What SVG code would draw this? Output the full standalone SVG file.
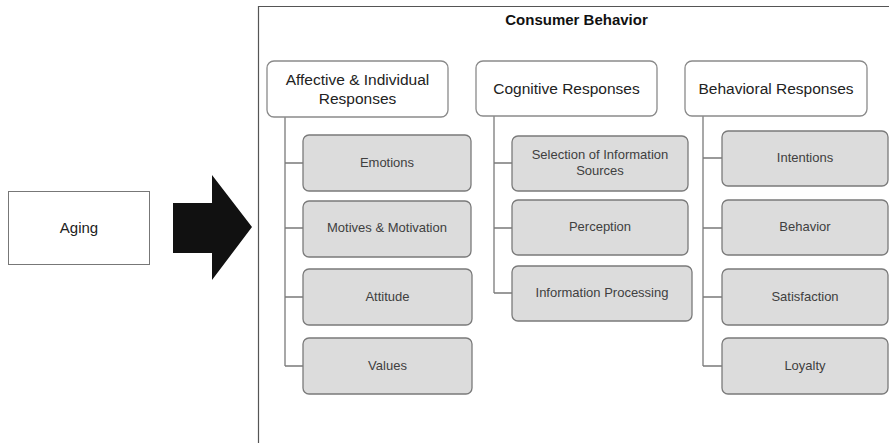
<svg xmlns="http://www.w3.org/2000/svg" width="889" height="443" viewBox="0 0 889 443">
<style>
.hdr{fill:#fff;stroke:#8a8a8a;stroke-width:1.3}
.child{fill:#dcdcdc;stroke:#7a7a7a;stroke-width:1.3}
.ht{font-family:"Liberation Sans",Arial,sans-serif;font-size:15.5px;fill:#222;text-anchor:middle}
.ct{font-family:"Liberation Sans",Arial,sans-serif;font-size:13px;fill:#404040;text-anchor:middle}
.conn{fill:none;stroke:#7a7a7a;stroke-width:1.3}
</style>
<rect width="889" height="443" fill="#fff"/>
<g id="container">
<path d="M258.5 450 V6.5 H895" fill="none" stroke="#555" stroke-width="1.2"/>
<text x="576.5" y="25" font-family="Liberation Sans,Arial,sans-serif" font-size="15" font-weight="bold" text-anchor="middle" fill="#111">Consumer Behavior</text>
</g>
<g id="aging">
<rect x="8.5" y="191.5" width="141" height="73" fill="#fff" stroke="#777" stroke-width="1"/>
<text x="79" y="233" class="ct" style="font-size:15px;fill:#222">Aging</text>
</g>
<g id="bigArrow">
<polygon points="173,203 212,203 212,175 252,227 212,280 212,253 173,253" fill="#111"/>
</g>
<g id="connectors">
<path class="conn" d="M285 117 V366 M285 163 H303 M285 228 H303 M285 297 H303 M285 366 H303"/>
<path class="conn" d="M494 116 V293 M494 163 H512 M494 228 H512 M494 293 H512"/>
<path class="conn" d="M703 116 V366 M703 158 H722 M703 228 H722 M703 297 H722 M703 366 H722"/>
</g>
<g id="affective">
<rect class="hdr" x="267" y="61" width="181" height="56" rx="7"/>
<text class="ht" x="357.5" y="85">Affective &amp; Individual</text>
<text class="ht" x="357.5" y="104">Responses</text>
</g>
<g id="cognitive">
<rect class="hdr" x="476" y="61" width="181" height="55" rx="7"/>
<text class="ht" x="566.5" y="94">Cognitive Responses</text>
</g>
<g id="behavioral">
<rect class="hdr" x="685" y="61" width="182" height="55" rx="7"/>
<text class="ht" x="776" y="94">Behavioral Responses</text>
</g>
<g id="emotions"><rect class="child" x="303" y="135" width="168" height="56" rx="6"/><text class="ct" x="387" y="167">Emotions</text></g>
<g id="motives"><rect class="child" x="303" y="201" width="168" height="56" rx="6"/><text class="ct" x="387" y="232">Motives &amp; Motivation</text></g>
<g id="attitude"><rect class="child" x="303" y="269" width="169" height="56" rx="6"/><text class="ct" x="387.5" y="301">Attitude</text></g>
<g id="values"><rect class="child" x="303" y="338" width="169" height="56" rx="6"/><text class="ct" x="387.5" y="370">Values</text></g>
<g id="selection"><rect class="child" x="512" y="136" width="176" height="55" rx="6"/><text class="ct" x="600" y="159">Selection of Information</text><text class="ct" x="600" y="175">Sources</text></g>
<g id="perception"><rect class="child" x="512" y="200" width="176" height="55" rx="6"/><text class="ct" x="600" y="231">Perception</text></g>
<g id="processing"><rect class="child" x="512" y="266" width="180" height="55" rx="6"/><text class="ct" x="602" y="297">Information Processing</text></g>
<g id="intentions"><rect class="child" x="722" y="131" width="166" height="55" rx="6"/><text class="ct" x="805" y="162">Intentions</text></g>
<g id="behavior"><rect class="child" x="722" y="200" width="166" height="55" rx="6"/><text class="ct" x="805" y="231">Behavior</text></g>
<g id="satisfaction"><rect class="child" x="722" y="269" width="166" height="56" rx="6"/><text class="ct" x="805" y="301">Satisfaction</text></g>
<g id="loyalty"><rect class="child" x="722" y="338" width="166" height="56" rx="6"/><text class="ct" x="805" y="370">Loyalty</text></g>
</svg>
